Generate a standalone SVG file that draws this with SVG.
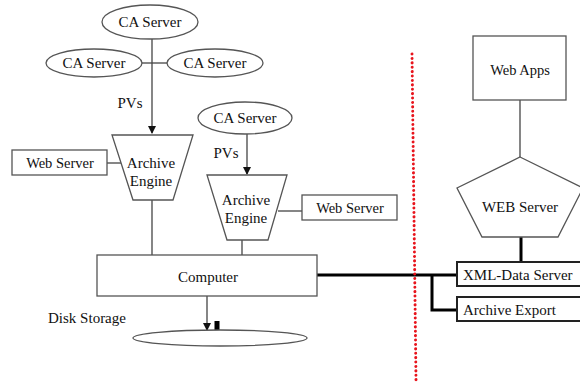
<svg xmlns="http://www.w3.org/2000/svg" width="580" height="383" viewBox="0 0 580 383">
<style>
.s{fill:#fff;stroke:#555;stroke-width:1.3}
.t{font-family:"Liberation Serif","Times New Roman",serif;font-size:15px;fill:#111;text-anchor:middle}
.tl{text-anchor:start}
.c{fill:none;stroke:#444;stroke-width:1.3}
.k{fill:none;stroke:#000;stroke-width:3}
.b{fill:#fff;stroke:#222;stroke-width:2}
</style>
<defs>
<marker id="ar" markerWidth="8" markerHeight="8" refX="7" refY="4" orient="auto" markerUnits="userSpaceOnUse">
<path d="M0,0 L8,4 L0,8 Z" fill="#111"/>
</marker>
</defs>
<rect width="580" height="383" fill="#fff"/>
<g id="connectors">
<path class="c" d="M152,39 V133" marker-end="url(#ar)"/>
<path class="c" d="M142,63 H167"/>
<path class="c" d="M247,134 V174" marker-end="url(#ar)"/>
<path class="c" d="M107,163 H121"/>
<path class="c" d="M278,211 H302"/>
<path class="c" d="M152,200 V255"/>
<path class="c" d="M242,240 V255"/>
<path class="c" d="M207,296 V330" marker-end="url(#ar)"/>
<rect x="214.5" y="321" width="5" height="14" fill="#000"/>
<path class="c" d="M520,100 V157"/>
<path class="k" d="M521,237 V262"/>
<path class="k" d="M317,275 H457"/>
<path class="k" d="M432,275 V310 H457"/>
<path d="M412,54 L416,380" stroke="#e8141c" stroke-width="3" stroke-linecap="round" stroke-dasharray="0.1,4.3" fill="none"/>
</g>
<g id="ca1"><ellipse class="s" cx="150" cy="22" rx="48" ry="17"/><text class="t" x="150" y="27">CA Server</text></g>
<g id="ca2"><ellipse class="s" cx="94" cy="63" rx="48" ry="14"/><text class="t" x="94" y="68">CA Server</text></g>
<g id="ca3"><ellipse class="s" cx="215" cy="63" rx="48" ry="14"/><text class="t" x="215" y="68">CA Server</text></g>
<g id="ca4"><ellipse class="s" cx="245" cy="118" rx="47" ry="16"/><text class="t" x="245" y="123">CA Server</text></g>
<g id="pvs1"><text class="t" x="130" y="108">PVs</text></g>
<g id="pvs2"><text class="t" x="226" y="158">PVs</text></g>
<g id="engine1"><polygon class="s" points="112,135 193,135 173,200 133,200"/><text class="t" x="151" y="168">Archive</text><text class="t" x="151" y="186">Engine</text></g>
<g id="engine2"><polygon class="s" points="207,175 287,175 268,240 227,240"/><text class="t" x="246" y="205">Archive</text><text class="t" x="246" y="223">Engine</text></g>
<g id="web1"><rect class="s" x="12" y="150" width="95" height="25"/><text class="t" x="60" y="168" style="font-size:14.5px">Web Server</text></g>
<g id="web2"><rect class="s" x="302" y="195" width="95" height="25"/><text class="t" x="350" y="213" style="font-size:14.5px">Web Server</text></g>
<g id="computer"><rect class="s" x="97" y="255" width="220" height="41"/><text class="t" x="208" y="282">Computer</text></g>
<g id="disk"><ellipse class="s" cx="220" cy="338" rx="87" ry="8"/><text class="t" x="87" y="323">Disk Storage</text></g>
<g id="webapps"><rect class="s" x="473" y="36" width="93" height="64"/><text class="t" x="520" y="75" style="font-size:14.5px">Web Apps</text></g>
<g id="webserver"><polygon class="s" points="520,157 583,188 558,237 482,237 457,188"/><text class="t" x="520" y="212">WEB Server</text></g>
<g id="xml"><rect class="b" x="457" y="262" width="130" height="24"/><text class="t tl" x="463" y="280">XML-Data Server</text></g>
<g id="export"><rect class="b" x="457" y="297" width="130" height="24"/><text class="t tl" x="463" y="315">Archive Export</text></g>
</svg>
